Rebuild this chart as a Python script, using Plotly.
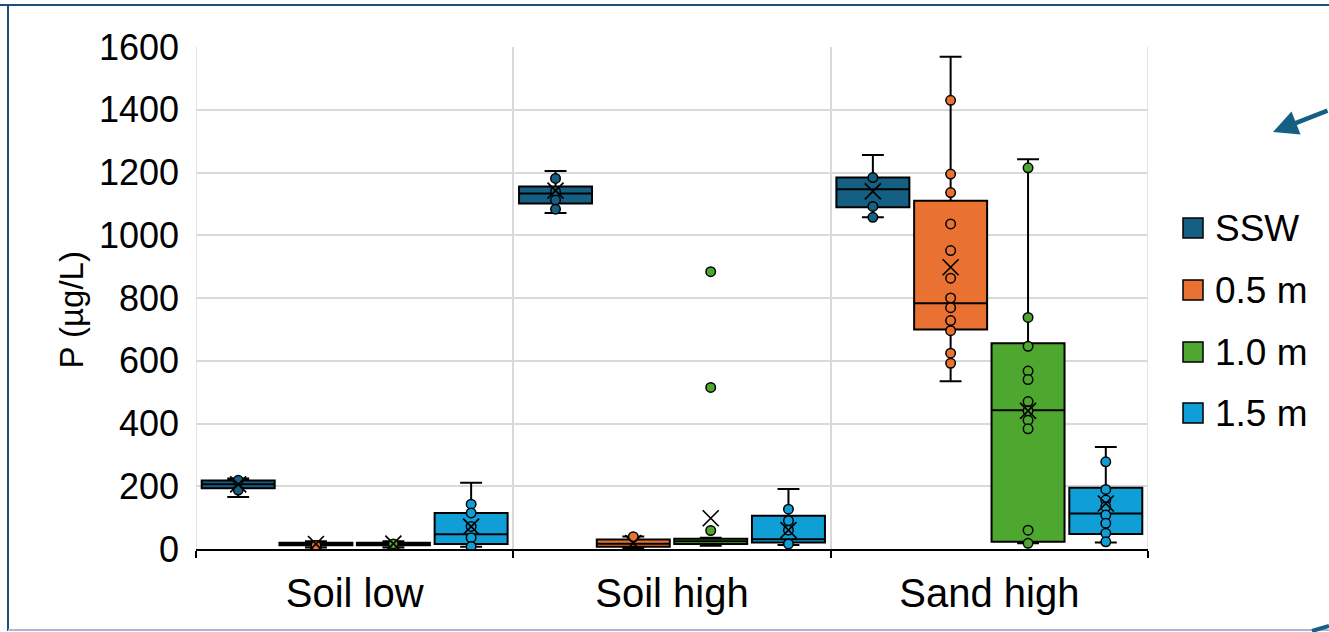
import plotly.graph_objects as go

# ---------------- data ----------------
categories = ["Soil low", "Soil high", "Sand high"]
series = ["SSW", "0.5 m", "1.0 m", "1.5 m"]
colors = ["#156082", "#E97132", "#4EA72E", "#0F9ED5"]

# box statistics per series, one value per category
q1 = {
    "SSW":   [194, 1101, 1089],
    "0.5 m": [12, 7, 700],
    "1.0 m": [12, 16, 23],
    "1.5 m": [16, 21, 48],
}
median = {
    "SSW":   [206, 1133, 1147],
    "0.5 m": [16, 17, 783],
    "1.0 m": [16, 25, 442],
    "1.5 m": [47, 31, 113],
}
q3 = {
    "SSW":   [218, 1155, 1184],
    "0.5 m": [20, 30, 1110],
    "1.0 m": [20, 33, 656],
    "1.5 m": [115, 106, 195],
}
lower = {
    "SSW":   [166, 1071, 1057],
    "0.5 m": [5, 3, 535],
    "1.0 m": [5, 10, 18],
    "1.5 m": [7, 13, 21],
}
upper = {
    "SSW":   [225, 1205, 1256],
    "0.5 m": [25, 40, 1569],
    "1.0 m": [25, 36, 1242],
    "1.5 m": [211, 191, 325],
}
mean = {
    "SSW":   [206, 1142, 1140],
    "0.5 m": [16, 19, 898],
    "1.0 m": [17, 98, 440],
    "1.5 m": [71, 60, 145],
}
points = {
    "SSW":   [[219, 188], [1181, 1140, 1112, 1083], [1184, 1092, 1057]],
    "0.5 m": [[11], [39], [1430, 1195, 1136, 1036, 951, 863, 800, 769, 728, 696, 624, 592]],
    "1.0 m": [[16], [884, 515, 59], [1215, 738, 646, 567, 540, 470, 440, 410, 383, 60, 18]],
    "1.5 m": [[143, 115, 72, 36, 8], [127, 90, 60, 16], [278, 190, 156, 135, 108, 82, 50, 23]],
}

yticks = [0, 200, 400, 600, 800, 1000, 1200, 1400, 1600]

# ---------------- layout helpers ----------------
W, H = 1329, 632
L, R, T, B = 196, 1148, 47, 549
offsets = [-0.367, -0.122, 0.122, 0.367]
box_w = 0.23


def px(x):
    return (x - L) / (R - L)


def py(y):
    return (B - y) / (B - T)


fig = go.Figure()
for i, s in enumerate(series):
    xs = [c + offsets[i] for c in range(len(categories))]
    fig.add_trace(go.Box(
        x=xs, q1=q1[s], median=median[s], q3=q3[s],
        lowerfence=lower[s], upperfence=upper[s],
        width=box_w, whiskerwidth=0.3,
        fillcolor=colors[i], line=dict(color="black", width=2),
        name=s, showlegend=False, boxpoints=False, hoverinfo="skip",
    ))
for i, s in enumerate(series):
    px_list, py_list = [], []
    for c in range(len(categories)):
        for v in points[s][c]:
            px_list.append(c + offsets[i])
            py_list.append(v)
    fig.add_trace(go.Scatter(
        x=px_list, y=py_list, mode="markers", showlegend=False,
        marker=dict(symbol="circle", size=9.5, color=colors[i],
                    line=dict(color="black", width=1.5)),
        hoverinfo="skip",
    ))
for i, s in enumerate(series):
    fig.add_trace(go.Scatter(
        x=[c + offsets[i] for c in range(len(categories))], y=mean[s],
        mode="markers", showlegend=False,
        marker=dict(symbol="x-thin", size=16, color="black",
                    line=dict(color="black", width=1.7)),
        hoverinfo="skip",
    ))

shapes = []
annotations = []
# outer vertical gridlines at plot edges
for xv in (-0.5, 2.5):
    shapes.append(dict(type="line", xref="x", yref="paper", x0=xv, x1=xv, y0=0, y1=1,
                       layer="below", line=dict(color="#D9D9D9", width=1.5)))
# manual legend
leg_y = [228, 290, 352, 413]
for i, s in enumerate(series):
    shapes.append(dict(type="rect", xref="paper", yref="paper",
                       x0=px(1183), x1=px(1203), y0=py(leg_y[i] + 10), y1=py(leg_y[i] - 10),
                       fillcolor=colors[i], line=dict(color="black", width=1.5)))
    annotations.append(dict(xref="paper", yref="paper", x=px(1213), y=py(leg_y[i]),
                            text=s, showarrow=False, xanchor="left", yanchor="middle",
                            font=dict(size=37, color="black", family="Liberation Sans")))
# y-axis title
annotations.append(dict(xref="paper", yref="paper", x=px(50), y=py(310), text="P (µg/L)",
                        textangle=-90, showarrow=False,
                        font=dict(size=33, color="black", family="Liberation Sans")))
# arrow at top right
annotations.append(dict(xref="paper", yref="paper", x=px(1273), y=py(132), text="",
                        showarrow=True, arrowhead=2, arrowsize=1.1, arrowwidth=4.5,
                        arrowcolor="#156082", ax=60, ay=-22, axref="pixel", ayref="pixel"))
# frame
shapes.append(dict(type="line", xref="paper", yref="paper", x0=px(0), x1=px(W), y0=py(5), y1=py(5),
                   line=dict(color="#1F4E79", width=2)))
shapes.append(dict(type="line", xref="paper", yref="paper", x0=px(8), x1=px(8), y0=py(5), y1=py(631),
                   line=dict(color="#1F4E79", width=2)))
shapes.append(dict(type="line", xref="paper", yref="paper", x0=px(8), x1=px(W), y0=py(630), y1=py(630),
                   line=dict(color="#A9B8CC", width=2)))
shapes.append(dict(type="line", xref="paper", yref="paper", x0=px(1312), x1=px(1329), y0=py(631), y1=py(626),
                   line=dict(color="#156082", width=4)))

fig.update_layout(
    width=W, height=H,
    margin=dict(l=L, r=W - R, t=T, b=H - B, pad=0),
    paper_bgcolor="white", plot_bgcolor="white",
    showlegend=False, boxmode="overlay",
    shapes=shapes, annotations=annotations,
    font=dict(family="Liberation Sans", color="black"),
)
fig.update_xaxes(
    range=[-0.5, 2.5], tickvals=list(range(len(categories))), ticktext=categories,
    showgrid=False, ticks="", tickfont=dict(size=40, family="Liberation Sans"),
    showline=True, linecolor="black", linewidth=1.5, zeroline=False,
    ticklabelstandoff=8,
    minor=dict(tickvals=[-0.5, 0.5, 1.5, 2.5], ticks="outside", ticklen=7, tickwidth=1.5,
               tickcolor="black", showgrid=True, gridcolor="#D9D9D9", gridwidth=1.5),
)
fig.update_yaxes(
    range=[0, 1600], tickvals=yticks, showgrid=True, gridcolor="#D9D9D9", gridwidth=1.5,
    zeroline=False, showline=False, ticks="", tickfont=dict(size=36, family="Liberation Sans"),
    ticklabelstandoff=16,
)

fig.write_html("out.html", config={"displayModeBar": False},
               post_script="document.body.style.margin='0px';")
